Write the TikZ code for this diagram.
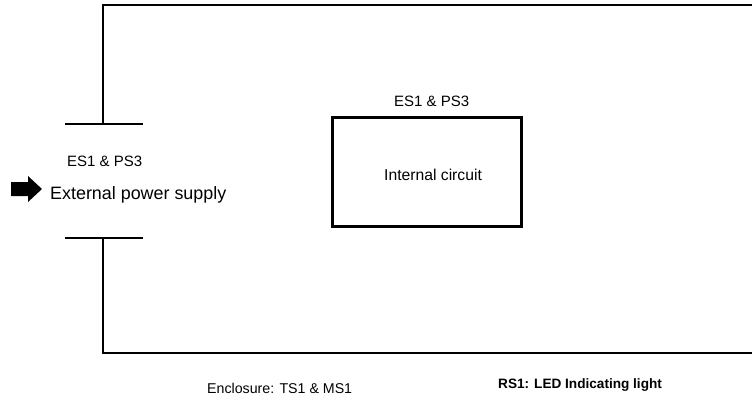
\documentclass[tikz,border=0pt]{standalone}
\usepackage{fontspec}
\setmainfont{Liberation Sans}
\usetikzlibrary{positioning}

\begin{document}
\begin{tikzpicture}[x=1pt, y=-1pt,
    wire/.style={line width=2.6pt},
    tag/.style={inner sep=0pt, anchor=base west, font=\fontsize{15}{18}\selectfont}]
    \useasboundingbox (0,0) rectangle (752,400);

    \coordinate (top right) at (756,5);
    \coordinate (top left) at (103,5);
    \coordinate (upper mid) at (103,124);
    \coordinate (upper west) at (65,124);
    \coordinate (upper east) at (143,124);
    \coordinate (lower west) at (65,238);
    \coordinate (lower east) at (143,238);
    \coordinate (lower mid) at (103,238);
    \coordinate (bottom left) at (103,353);
    \coordinate (bottom right) at (756,353);

    \draw[wire] (top right) -- (top left) -- (upper mid);
    \draw[wire] (upper west) -- (upper east);
    \draw[wire] (lower west) -- (lower east);
    \draw[wire] (lower mid) -- (bottom left) -- (bottom right);

    \node[draw, line width=3pt, minimum width=189pt, minimum height=109pt] (circuit) at (427,172) {};
    \node[tag] (circuit tag) at (394,106) {ES1 \& PS3};
    \node[tag, font=\fontsize{15.7}{18}\selectfont] (circuit text) at (384,180) {Internal circuit};

    \node[tag] (supply tag) at (67,166) {ES1 \& PS3};
    \node[tag, font=\fontsize{17.9}{20}\selectfont] (supply text) at (50,199) {External power supply};
    \fill (11,182) -- (28,182) -- (28,176) -- (42,189) -- (28,202) -- (28,196) -- (11,196) -- cycle;

    \node[tag, font=\fontsize{14.2}{17}\selectfont] (enclosure) at (207,393) {Enclosure: TS1 \& MS1};
    \node[tag, font=\bfseries\fontsize{13.6}{16}\selectfont] (indicator) at (498,388) {RS1: LED Indicating light};
\end{tikzpicture}
\end{document}
